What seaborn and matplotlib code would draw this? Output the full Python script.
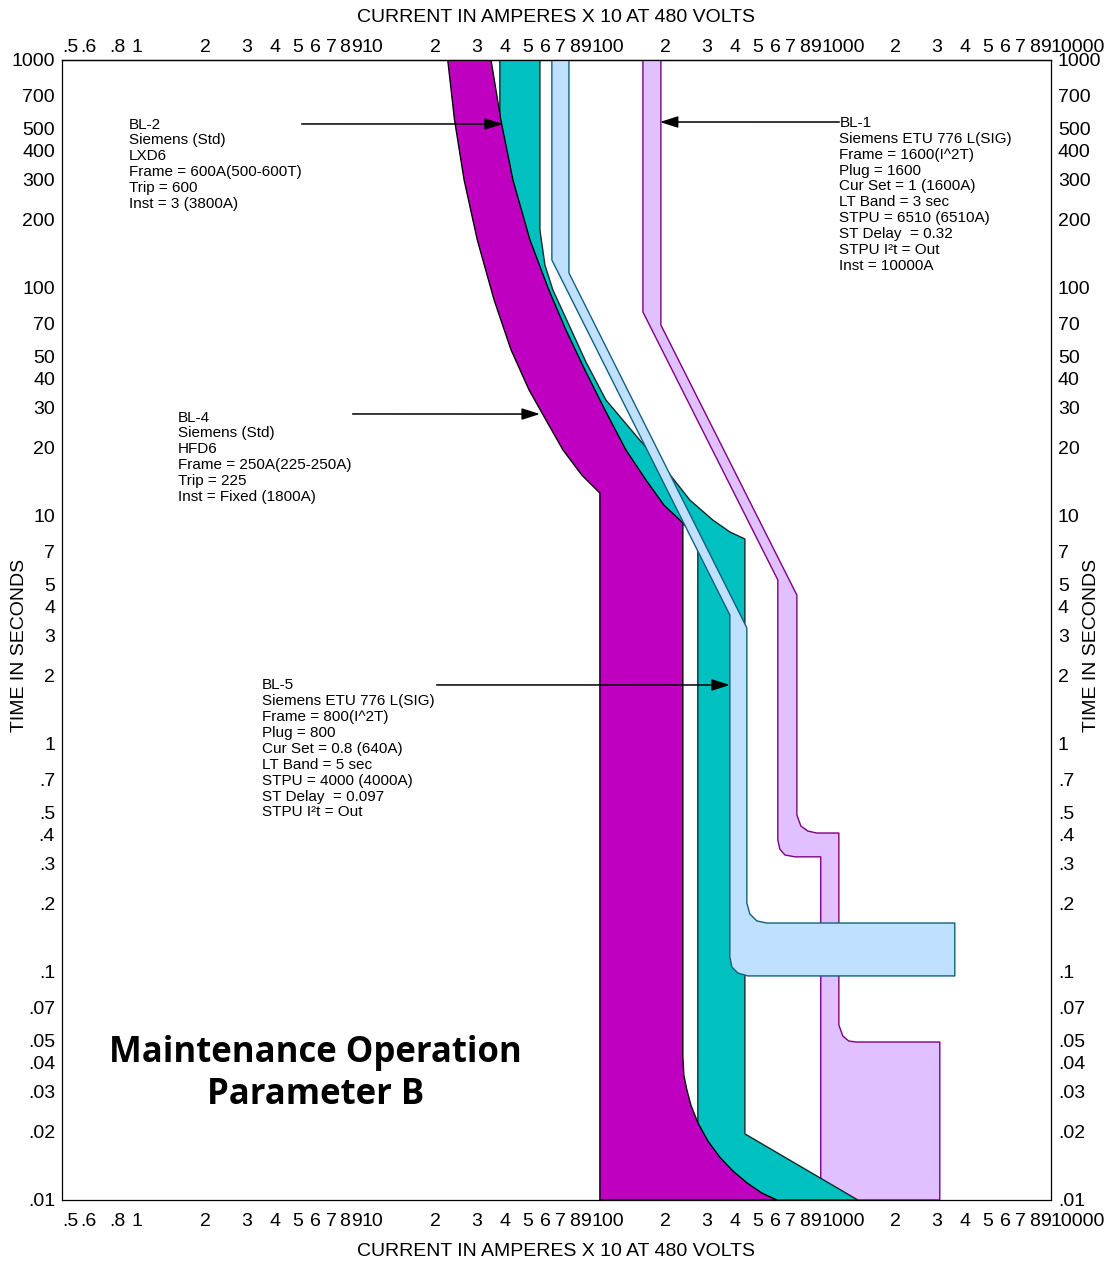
import matplotlib
matplotlib.use("Agg")
import matplotlib.pyplot as plt
from matplotlib.ticker import FixedLocator, FixedFormatter, NullLocator
import pandas as pd
import seaborn as sns

# band outlines: current (A x10) and time (s)
# BL-1 Siemens ETU 776, 1600A frame (lavender)
bl1_amps = [168.0, 168.0, 648.6, 648.6, 661.8, 696, 769, 997, 997, 3284, 3284,
            1430, 1320, 1243, 1195, 1195, 958, 876, 817, 785, 785, 201.1, 201.1]
bl1_secs = [1000, 78.5, 5.24, 0.379, 0.346, 0.326, 0.320, 0.320, 0.01, 0.01, 0.0493,
            0.0493, 0.0498, 0.0524, 0.0586, 0.407, 0.407, 0.415, 0.437, 0.488, 4.50, 68.8, 1000]

# BL-2 Siemens LXD6 600A (teal)
bl2_amps = [40.1, 40.1, 43, 50, 60, 71, 86, 105, 130, 158, 190, 240, 291.2, 291.2,
            1445, 466.3, 466.3, 401.2, 338.3, 268.8, 217.8, 162.9, 115.9, 94.9,
            80.9, 68.2, 62.95, 59.9, 59.9]
bl2_secs = [1000, 529, 297.6, 162.4, 98.0, 65.4, 43.7, 29.2, 19.5, 14.4, 11.17, 9.32, 8.68, 0.01,
            0.01, 0.0195, 7.93, 8.51, 9.60, 11.75, 15.4, 21.5, 32.3, 47.4,
            67.4, 98.0, 126.2, 179.6, 1000]

# BL-4 Siemens HFD6 250A (magenta)
bl4_amps = [23.8, 25.47, 28.04, 32.0, 37.86, 44.87, 53.74, 63.6, 75.4, 91.2, 109.2, 109.2,
            642.2, 552.6, 475.7, 413.4, 363, 321.9, 291.2, 271.5, 260.9, 253.1, 250.6,
            250.6, 207.2, 173.0, 141.6, 114.8, 93.96, 77.7, 65.5, 54.2, 45.7, 40.5, 36.7]
bl4_secs = [1000, 545.6, 297.6, 162.4, 88.6, 53.5, 35.7, 26.4, 19.5, 15.1, 12.6, 0.01,
            0.01, 0.01073, 0.0119, 0.01341, 0.0154, 0.01815, 0.0218, 0.0261, 0.0304, 0.0353, 0.0424,
            9.32, 11.17, 14.4, 19.5, 29.2, 43.7, 65.4, 98.0, 162.4, 297.6, 545.6, 1000]

# BL-5 Siemens ETU 776, 800A frame (light blue)
bl5_amps = [67.5, 67.5, 401.2, 401.2, 409.3, 434.6, 480.5, 3816, 3816, 581, 525.7, 490.1,
            475.7, 475.7, 80.1, 80.1]
bl5_secs = [1000, 132.7, 3.68, 0.1164, 0.1052, 0.0990, 0.0961, 0.0961, 0.164, 0.164, 0.1675, 0.1796,
            0.2008, 3.23, 116.4, 1000]

x_ticks = [0.5, 0.6, 0.8, 1, 2, 3, 4, 5, 6, 7, 8, 9, 10, 20, 30, 40, 50, 60, 70, 80, 90,
           100, 200, 300, 400, 500, 600, 700, 800, 900, 1000, 2000, 3000, 4000, 5000,
           6000, 7000, 8000, 9000, 10000]
x_tick_labels = ['.5', '.6', '.8', '1', '2', '3', '4', '5', '6', '7', '8', '9', '10',
                 '2', '3', '4', '5', '6', '7', '8', '9', '100',
                 '2', '3', '4', '5', '6', '7', '8', '9', '1000',
                 '2', '3', '4', '5', '6', '7', '8', '9', '10000']
y_ticks = [0.01, 0.02, 0.03, 0.04, 0.05, 0.07, 0.1, 0.2, 0.3, 0.4, 0.5, 0.7, 1, 2, 3, 4, 5, 7,
           10, 20, 30, 40, 50, 70, 100, 200, 300, 400, 500, 700, 1000]
y_tick_labels = ['.01', '.02', '.03', '.04', '.05', '.07', '.1', '.2', '.3', '.4', '.5', '.7',
                 '1', '2', '3', '4', '5', '7', '10', '20', '30', '40', '50', '70',
                 '100', '200', '300', '400', '500', '700', '1000']

bl1_text = ["BL-1", "Siemens ETU 776 L(SIG)", "Frame = 1600(I^2T)", "Plug = 1600",
            "Cur Set = 1 (1600A)", "LT Band = 3 sec", "STPU = 6510 (6510A)",
            "ST Delay  = 0.32", "STPU I²t = Out", "Inst = 10000A"]
bl2_text = ["BL-2", "Siemens (Std)", "LXD6", "Frame = 600A(500-600T)", "Trip = 600",
            "Inst = 3 (3800A)"]
bl4_text = ["BL-4", "Siemens (Std)", "HFD6", "Frame = 250A(225-250A)", "Trip = 225",
            "Inst = Fixed (1800A)"]
bl5_text = ["BL-5", "Siemens ETU 776 L(SIG)", "Frame = 800(I^2T)", "Plug = 800",
            "Cur Set = 0.8 (640A)", "LT Band = 5 sec", "STPU = 4000 (4000A)",
            "ST Delay  = 0.097", "STPU I²t = Out"]

# where each label arrow touches its band (amps, secs)
bl1_tip = (199.1, 534.6)
bl2_tip = (41.3, 524)
bl4_tip = (59.9, 28.0)
bl5_tip = (401.2, 1.815)

sns.set_theme(style="white")
plt.rcParams['font.family'] = ['Liberation Sans', 'DejaVu Sans']
plt.rcParams['text.color'] = 'black'
plt.rcParams['xtick.color'] = 'black'
plt.rcParams['ytick.color'] = 'black'

fig = plt.figure(figsize=(11.1, 12.64), dpi=100)
ax = fig.add_axes([62 / 1110, 64 / 1264, 989 / 1110, 1140 / 1264])
ax.set_xscale('log')
ax.set_yscale('log')

bands = [
    (bl1_amps, bl1_secs, '#E0C0FF', '#800080'),
    (bl2_amps, bl2_secs, '#00C0C0', '#0F2A2A'),
    (bl4_amps, bl4_secs, '#C000C0', '#000000'),
    (bl5_amps, bl5_secs, '#C0E0FF', '#106080'),
]
for i, (amps, secs, face, edge) in enumerate(bands):
    z = 1 + i * 0.2
    ax.fill(amps, secs, color=face, lw=0, zorder=z)
    outline = pd.DataFrame({'amps': amps + amps[:1], 'secs': secs + secs[:1]})
    sns.lineplot(data=outline, x='amps', y='secs', sort=False, estimator=None,
                 color=edge, lw=1.0, zorder=z + 0.1, ax=ax)

ax.set_xlim(0.5, 10000)
ax.set_ylim(0.01, 1000)
ax.set_xlabel('')
ax.set_ylabel('')

ax.xaxis.set_major_locator(FixedLocator(x_ticks))
ax.xaxis.set_major_formatter(FixedFormatter(x_tick_labels))
ax.xaxis.set_minor_locator(NullLocator())
ax.yaxis.set_major_locator(FixedLocator(y_ticks))
ax.yaxis.set_major_formatter(FixedFormatter(y_tick_labels))
ax.yaxis.set_minor_locator(NullLocator())
ax.tick_params(axis='both', which='both', length=0, labelsize=14)
ax.tick_params(axis='x', pad=9)
ax.tick_params(axis='y', right=True, labelright=True, pad=5)
for tick in ax.xaxis.get_major_ticks():
    tick.label1.set_horizontalalignment('left')

# top current scale, sitting closer to the frame
top = ax.secondary_xaxis('top')
top.xaxis.set_major_locator(FixedLocator(x_ticks))
top.xaxis.set_major_formatter(FixedFormatter(x_tick_labels))
top.xaxis.set_minor_locator(NullLocator())
top.tick_params(axis='x', which='both', length=0, labelsize=14, pad=3)
for tick in top.xaxis.get_major_ticks():
    tick.label2.set_horizontalalignment('left')
top.spines['top'].set_color('black')
top.spines['top'].set_linewidth(0.9)

for sp in ax.spines.values():
    sp.set_color('black')
    sp.set_linewidth(0.9)
    sp.set_zorder(5)

# labels with arrows
arrow_kw = dict(arrowstyle='-|>,head_length=1.0,head_width=0.32', color='black',
                lw=1.1, shrinkA=0, shrinkB=0, mutation_scale=11)
blocks = [
    (bl2_text, (0.0677, 0.9495), bl2_tip, (0.2424, 0.9439)),
    (bl1_text, (0.7859, 0.9509), bl1_tip, (0.7859, 0.9456)),
    (bl4_text, (0.1172, 0.6925), bl4_tip, (0.2939, 0.6895)),
    (bl5_text, (0.2020, 0.4575), bl5_tip, (0.3788, 0.4518)),
]
for lines, pos, tip, tail in blocks:
    ax.text(pos[0], pos[1], '\n'.join(lines), transform=ax.transAxes, ha='left', va='top',
            fontsize=11, linespacing=1.17, zorder=6)
    ax.annotate('', xy=tip, xycoords='data', xytext=tail, textcoords='axes fraction',
                arrowprops=arrow_kw, zorder=6)

ax.text(0.2566, 0.1105, 'Maintenance Operation\nParameter B', transform=ax.transAxes,
        ha='center', va='center', fontsize=25, fontweight='bold', family='Open Sans',
        linespacing=1.24, zorder=6)

fig.text(556 / 1110, 1 - 17 / 1264, 'CURRENT IN AMPERES X 10 AT 480 VOLTS',
         ha='center', va='center', fontsize=14)
fig.text(556 / 1110, 1 - 1251 / 1264, 'CURRENT IN AMPERES X 10 AT 480 VOLTS',
         ha='center', va='center', fontsize=14)
fig.text(20 / 1110, 1 - 645 / 1264, 'TIME IN SECONDS', rotation=90,
         ha='center', va='center', fontsize=14)
fig.text(1092 / 1110, 1 - 645 / 1264, 'TIME IN SECONDS', rotation=90,
         ha='center', va='center', fontsize=14)

fig.savefig('out.png', dpi=100)
plt.close(fig)
